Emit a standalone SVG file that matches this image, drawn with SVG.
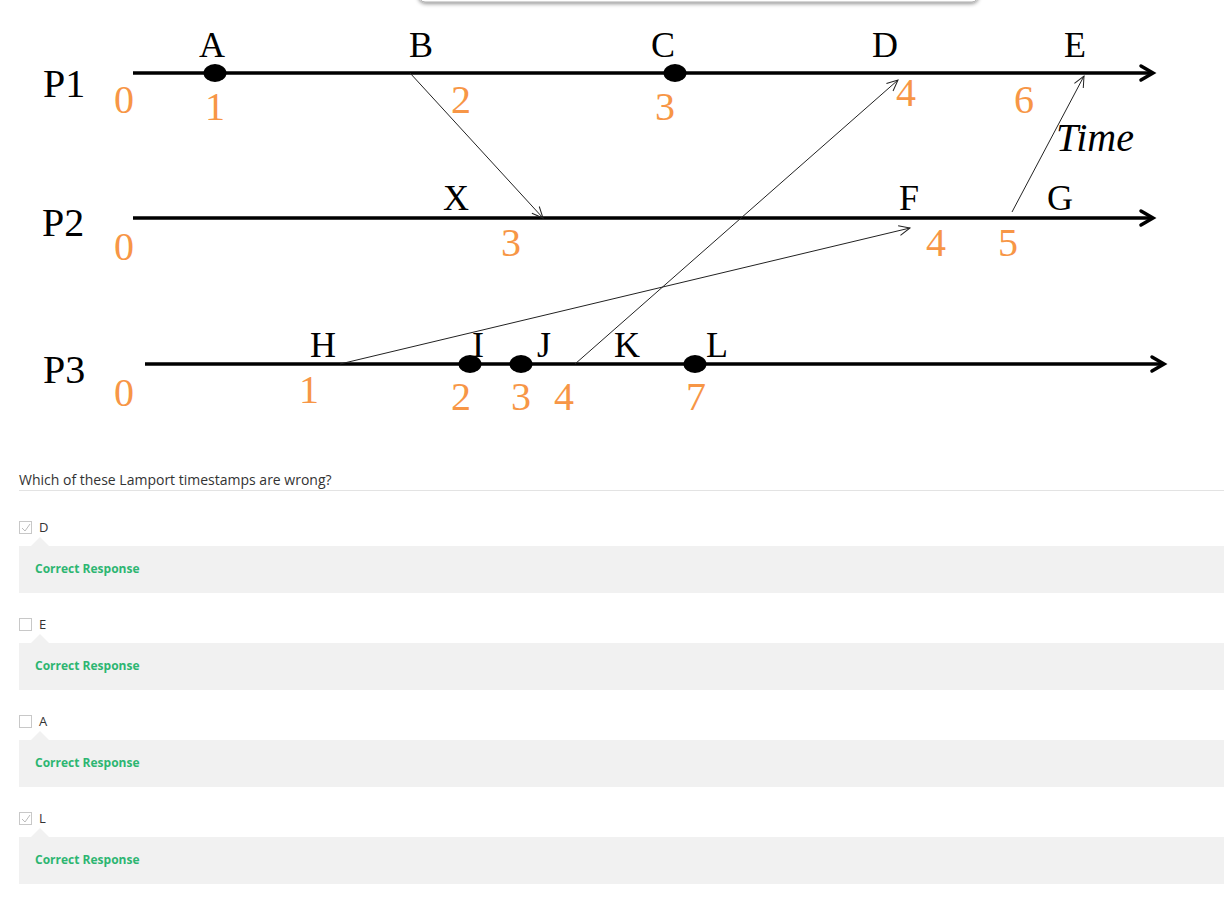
<svg xmlns="http://www.w3.org/2000/svg" width="1224" height="923" viewBox="0 0 1224 923">
  <style>
    .tl { stroke:#000; stroke-width:3.5; fill:none; }
    .tlh { stroke:#000; stroke-width:3.5; fill:none; stroke-linecap:round; stroke-linejoin:miter; }
    .msg { stroke:#222; stroke-width:1; fill:none; }
    .lbl { font-family:"Liberation Serif","Times New Roman",serif; font-size:36px; fill:#000; text-anchor:middle; }
    .pl { font-family:"Liberation Serif","Times New Roman",serif; font-size:40px; fill:#000; }
    .ts { font-family:"Liberation Serif","Times New Roman",serif; font-size:40px; fill:#F79646; text-anchor:middle; }
    .time { font-family:"Liberation Serif","Times New Roman",serif; font-size:40px; font-style:italic; fill:#000; text-anchor:middle; }
    .q { font-family:"Open Sans","Liberation Sans",sans-serif; font-size:14px; fill:#333; }
    .opt { font-family:"Open Sans","Liberation Sans",sans-serif; font-size:13px; fill:#333; }
    .cr { font-family:"Open Sans","Liberation Sans",sans-serif; font-size:12px; font-weight:bold; fill:#2DB671; }
    .cb { fill:#fff; stroke:#c8c8c8; stroke-width:1; }
    .fb { fill:#f1f1f1; }
  </style>
  <defs>
    <marker id="open" markerUnits="userSpaceOnUse" viewBox="-12 -6 14 12" markerWidth="14" markerHeight="12" refX="0" refY="0" orient="auto">
      <polyline points="-11,-5 0,0 -11,5" fill="none" stroke="#222" stroke-width="1"/>
    </marker>
    <filter id="sh" x="-5%" y="-100%" width="110%" height="400%">
      <feGaussianBlur in="SourceAlpha" stdDeviation="2"/>
      <feOffset dy="1"/>
      <feComponentTransfer><feFuncA type="linear" slope="0.5"/></feComponentTransfer>
      <feMerge><feMergeNode/><feMergeNode in="SourceGraphic"/></feMerge>
    </filter>
  </defs>

  <rect width="1224" height="923" fill="#fff"/>

  <!-- popup edge at top -->
  <rect x="419" y="-20" width="559" height="22" rx="6" fill="#fff" stroke="#aaa" stroke-width="1" filter="url(#sh)"/>

  <!-- timelines -->
  <g id="P1">
    <line class="tl" x1="133" y1="73" x2="1152" y2="73"/>
    <polyline class="tlh" points="1141,66 1153,73 1141,80"/>
    <text class="pl" x="43" y="97">P1</text>
    <text class="ts" x="124" y="113">0</text>
  </g>
  <g id="P2">
    <line class="tl" x1="133" y1="218" x2="1152" y2="218"/>
    <polyline class="tlh" points="1141,211 1153,218 1141,225"/>
    <text class="pl" x="42" y="236">P2</text>
    <text class="ts" x="124" y="260">0</text>
  </g>
  <g id="P3">
    <line class="tl" x1="145" y1="364" x2="1163" y2="364"/>
    <polyline class="tlh" points="1152,357 1164,364 1152,371"/>
    <text class="pl" x="43" y="383">P3</text>
    <text class="ts" x="124" y="406">0</text>
  </g>

  <!-- connectors -->
  <g id="messages">
    <line class="msg" x1="410" y1="73" x2="543" y2="218" marker-end="url(#open)"/>
    <line class="msg" x1="340" y1="364" x2="910" y2="228" marker-end="url(#open)"/>
    <line class="msg" x1="575" y1="364" x2="898" y2="80" marker-end="url(#open)"/>
    <line class="msg" x1="1012" y1="212" x2="1084" y2="76" marker-end="url(#open)"/>
  </g>

  <!-- events -->
  <g id="A"><ellipse cx="215" cy="73" rx="11.5" ry="9"/><text class="lbl" x="212" y="57">A</text><text class="ts" x="215" y="120">1</text></g>
  <g id="B"><text class="lbl" x="421" y="57">B</text><text class="ts" x="461" y="113">2</text></g>
  <g id="C"><ellipse cx="675" cy="73" rx="11.5" ry="9"/><text class="lbl" x="663" y="57">C</text><text class="ts" x="665" y="120">3</text></g>
  <g id="D"><text class="lbl" x="885" y="57">D</text><text class="ts" x="906" y="106">4</text></g>
  <g id="E"><text class="lbl" x="1075" y="57">E</text><text class="ts" x="1024" y="113">6</text></g>
  <g id="time"><text class="time" x="1095" y="151">Time</text></g>

  <g id="X"><text class="lbl" x="456" y="210">X</text><text class="ts" x="511" y="256">3</text></g>
  <g id="F"><text class="lbl" x="909" y="210">F</text><text class="ts" x="936" y="256">4</text></g>
  <g id="G"><text class="lbl" x="1060" y="210">G</text><text class="ts" x="1008" y="256">5</text></g>

  <g id="H"><text class="lbl" x="323" y="357">H</text><text class="ts" x="309" y="403">1</text></g>
  <g id="I"><ellipse cx="470" cy="364" rx="11.5" ry="9"/><text class="lbl" x="478" y="357">I</text><text class="ts" x="461" y="410">2</text></g>
  <g id="J"><ellipse cx="521" cy="364" rx="11.5" ry="9"/><text class="lbl" x="544" y="357">J</text><text class="ts" x="521" y="410">3</text></g>
  <g id="K"><text class="lbl" x="627" y="357">K</text><text class="ts" x="564" y="410">4</text></g>
  <g id="L"><ellipse cx="695" cy="364" rx="11.5" ry="9"/><text class="lbl" x="717" y="357">L</text><text class="ts" x="696" y="410">7</text></g>

  <!-- question -->
  <g id="question">
    <text class="q" x="19" y="485">Which of these Lamport timestamps are wrong?</text>
    <line x1="19" y1="490.5" x2="1224" y2="490.5" stroke="#e3e3e3" stroke-width="1"/>
  </g>

  <g id="optD">
    <rect class="cb" x="19.5" y="521.5" width="12" height="12"/>
    <polyline points="22,528 25,531 30,524" fill="none" stroke="#bbb" stroke-width="1"/>
    <text class="opt" x="39" y="532">D</text>
    <rect class="fb" x="19" y="546" width="1205" height="47"/>
    <polygon class="fb" points="30,547 40,537 50,547"/>
    <text class="cr" x="35" y="573">Correct Response</text>
  </g>
  <g id="optE">
    <rect class="cb" x="19.5" y="618.5" width="12" height="12"/>
    <text class="opt" x="39" y="629">E</text>
    <rect class="fb" x="19" y="643" width="1205" height="47"/>
    <polygon class="fb" points="30,644 40,634 50,644"/>
    <text class="cr" x="35" y="670">Correct Response</text>
  </g>
  <g id="optA">
    <rect class="cb" x="19.5" y="715.5" width="12" height="12"/>
    <text class="opt" x="39" y="726">A</text>
    <rect class="fb" x="19" y="740" width="1205" height="47"/>
    <polygon class="fb" points="30,741 40,731 50,741"/>
    <text class="cr" x="35" y="767">Correct Response</text>
  </g>
  <g id="optL">
    <rect class="cb" x="19.5" y="812.5" width="12" height="12"/>
    <polyline points="22,819 25,822 30,815" fill="none" stroke="#bbb" stroke-width="1"/>
    <text class="opt" x="39" y="823">L</text>
    <rect class="fb" x="19" y="837" width="1205" height="47"/>
    <polygon class="fb" points="30,838 40,828 50,838"/>
    <text class="cr" x="35" y="864">Correct Response</text>
  </g>
</svg>
